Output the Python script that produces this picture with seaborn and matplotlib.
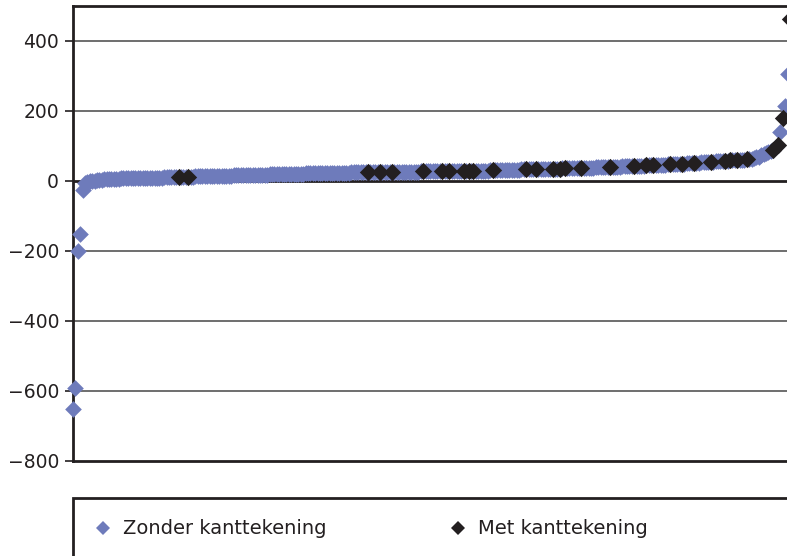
import matplotlib
matplotlib.use("Agg")
import matplotlib.pyplot as plt
import seaborn as sns
import pandas as pd
from matplotlib.lines import Line2D
from matplotlib.patches import Rectangle

# Sorted values, one per municipality (rank 1 = lowest)
values = [
    -650, -590, -200, -150, -25,
    -5, -3, -1, 0, 1, 2, 3,
    4, 5, 5, 6, 6, 7, 7, 7,
    8, 8, 8, 8, 8, 9, 9, 9, 9, 9, 9, 10, 10, 10, 10, 10, 10, 10, 11, 11,
    11, 11, 11, 11, 12, 12, 12, 12, 12, 12, 12, 13, 13, 13, 13, 13, 13, 14, 14, 14,
    14, 14, 15, 15, 15, 15, 15, 16, 16, 16, 16, 16, 17, 17, 17, 17, 17, 18, 18, 18,
    18, 18, 19, 19, 19, 19, 19, 20, 20, 20, 20, 20, 21, 21, 21, 21, 21, 22, 22, 22,
    22, 22, 22, 23, 23, 23, 23, 23, 23, 24, 24, 24, 24, 24, 24, 24, 25, 25, 25, 25,
    25, 25, 25, 25, 25, 26, 26, 26, 26, 26, 26, 26, 26, 26, 27, 27, 27, 27, 27, 27,
    27, 27, 27, 27, 27, 28, 28, 28, 28, 28, 28, 28, 28, 28, 28, 29, 29, 29, 29, 29,
    29, 29, 29, 29, 29, 29, 30, 30, 30, 30, 30, 30, 30, 30, 31, 31, 31, 31, 31, 31,
    31, 32, 32, 32, 32, 32, 32, 33, 33, 33, 33, 33, 33, 34, 34, 34, 34, 34, 35, 35,
    35, 35, 35, 35, 36, 36, 36, 36, 36, 37, 37, 37, 37, 37, 38, 38, 38, 38, 39, 39,
    39, 39, 40, 40, 40, 40, 41, 41, 41, 42, 42, 42, 42, 43, 43, 43, 44, 44, 44, 45,
    45, 45, 46, 46, 46, 47, 47, 47, 48, 48, 48, 49, 49, 50, 50, 50, 51, 51, 52, 52,
    52, 52, 53, 53, 54, 54, 55, 55, 56, 56, 57, 57, 58, 58, 59, 59, 60, 60, 60, 61,
    61, 62, 63, 64, 66, 68, 70, 73, 76, 80,
    84, 87, 90, 96, 104, 140, 180, 215, 305, 463,
]

# Ranks of the municipalities that carry a remark
met_ranks = [45, 49, 124, 129, 134, 147, 155, 158, 164, 166, 168, 176,
             190, 194, 201, 204, 206, 213, 225, 235, 240, 243, 250, 255,
             260, 267, 273, 275, 278, 282, 293, 295, 297, 300]

series_names = ["Zonder kanttekening", "Met kanttekening"]
series_colors = ["#6E7BBB", "#231F20"]
marker_areas = [72, 78]
y_ticks = [-800, -600, -400, -200, 0, 200, 400]

df = pd.DataFrame({"rang": range(1, len(values) + 1), "waarde": values})
df["groep"] = [series_names[1] if r in met_ranks else series_names[0]
               for r in df["rang"]]

sns.set_theme(style="white")
plt.rcParams["font.family"] = ["DejaVu Sans"]
plt.rcParams["axes.unicode_minus"] = True

W, H = 787, 556
fig = plt.figure(figsize=(W / 100, H / 100), dpi=100)
ax = fig.add_axes([73 / W, 95 / H, 727 / W, 455 / H])

line_col = "#231F20"
for name, col, area in zip(series_names, series_colors, marker_areas):
    sub = df[df["groep"] == name]
    sns.scatterplot(data=sub, x="rang", y="waarde", ax=ax, color=col,
                    marker="D", s=area, linewidth=0, clip_on=False,
                    zorder=4, legend=False)

ax.set_xlim(1, 1 + 727 / 2.398)
ax.set_ylim(-800, 500)
ax.set_yticks(y_ticks)
ax.set_xticks([])
ax.set_xlabel("")
ax.set_ylabel("")

# Gridlines and the zero line
for t in y_ticks:
    if t == 0:
        ax.axhline(0, color=line_col, lw=2.0, zorder=2)
    elif t != -800:
        ax.axhline(t, color="#555555", lw=1.2, zorder=1)

for side in ["left", "top", "bottom"]:
    ax.spines[side].set_visible(True)
    ax.spines[side].set_color(line_col)
    ax.spines[side].set_linewidth(2.0)
ax.spines["right"].set_visible(False)

ax.tick_params(axis="y", direction="out", length=6, width=1.2,
               color=line_col, labelsize=13.5, labelcolor="#231F20", pad=4,
               left=True)

# Legend box
fig.add_artist(Rectangle((73 / W, -0.1), 1.0, 0.1 + 1 - 498 / H,
                         transform=fig.transFigure, fill=False,
                         ec=line_col, lw=2.0))
handles = [Line2D([], [], ls="", marker="D", markersize=7,
                  markerfacecolor=c, markeredgewidth=0)
           for c in series_colors]
fig.legend(handles, series_names, loc="center left",
           bbox_to_anchor=(76 / W, 1 - 529 / H), ncol=2, frameon=False,
           fontsize=14, handlelength=1.0, handletextpad=0.5,
           columnspacing=6.3, labelcolor="#231F20")

fig.savefig("out.png", dpi=100)
